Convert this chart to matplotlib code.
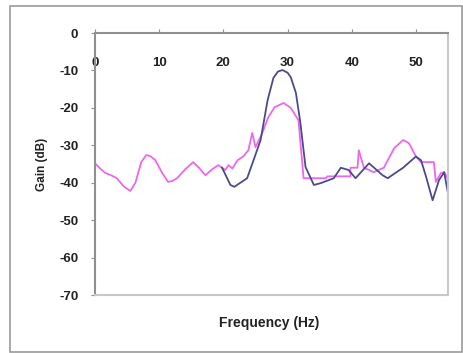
import matplotlib
matplotlib.use("Agg")
import matplotlib.pyplot as plt
from matplotlib.patches import Rectangle

freq_meas = [0, 0.8, 1.6, 2.5, 3.4, 4.5, 5.5, 6.3, 7.2, 8, 8.7, 9.4, 10.5, 11.4, 12.1,
             12.8, 14, 15.3, 16.2, 17.2, 18.2, 19.2, 20.3, 20.8, 21.4, 22.2, 23.1, 23.9,
             24.5, 25, 26, 27, 28, 29.4, 30.5, 31.7, 32.5, 36, 36.2, 39.8, 39.8, 40.9,
             41.1, 41.9, 42.7, 43.4, 45, 46.6, 48, 48.9, 50, 50.8, 52.8, 53.1, 53.9,
             54.4, 55]
gain_meas = [-34.8, -36.2, -37.4, -38, -38.8, -41, -42.2, -40, -34.5, -32.6, -33, -34,
             -37.5, -39.8, -39.5, -38.8, -36.5, -34.5, -36, -38, -36.5, -35.3, -36.6,
             -35.3, -36.2, -34, -33, -31.3, -26.7, -30.5, -27, -22.5, -19.8, -18.7, -20,
             -23.3, -38.8, -38.8, -38.3, -38.3, -36, -36, -31.3, -36, -36.6, -37.2, -36,
             -30.8, -28.6, -29.4, -33, -34.5, -34.5, -39.8, -37.4, -37.2, -39]

# model response (navy)
freq_model = [19.8, 21.1, 21.7, 23.7, 24.7, 25.8, 26.9, 27.8, 28.5, 29.2, 30, 30.5, 31.3,
              32, 32.8, 34.1, 35.2, 37.2, 38.3, 39.5, 40.6, 42.7, 44.8, 45.6, 48, 50,
              50.8, 51.6, 52.6, 53.6, 54.4, 55]
gain_model = [-36, -40.6, -41.1, -38.8, -34, -28.6, -17.9, -12, -10.3, -9.9, -10.6, -11.8,
              -16, -24, -35.8, -40.6, -40.1, -38.8, -36, -36.6, -38.8, -34.8, -38, -38.8,
              -36, -33, -34, -38.5, -44.7, -39.3, -37.2, -42.8]

x_ticks = [0, 10, 20, 30, 40, 50]
y_ticks = [0, -10, -20, -30, -40, -50, -60, -70]

plt.rcParams['font.family'] = ['Liberation Sans', 'DejaVu Sans']
plt.rcParams['axes.unicode_minus'] = False

fig = plt.figure(figsize=(4.63, 3.53), dpi=100)
fig.patches.append(Rectangle((10 / 463, 1 / 353), 452 / 463, 346 / 353,
                             transform=fig.transFigure, fill=False,
                             edgecolor='#9a9a9a', linewidth=1.2))

ax = fig.add_axes([95 / 463, 1 - 295 / 353, 353 / 463, 262 / 353])
ax.plot(freq_meas, gain_meas, color='#ee66ee', linewidth=1.3)
ax.plot(freq_model, gain_model, color='#4b4b8c', linewidth=1.3)

ax.set_xlim(0, 55)
ax.set_ylim(-70, 0)
ax.set_xticks(x_ticks)
ax.set_yticks(y_ticks)

for side in ['right', 'bottom']:
    ax.spines[side].set_color('#c8c8c8')
    ax.spines[side].set_linewidth(1.5)
for side in ['left', 'top']:
    ax.spines[side].set_color('#909090')
    ax.spines[side].set_linewidth(1.5)

ax.tick_params(axis='x', top=True, bottom=False, labeltop=True, labelbottom=False,
               direction='out', length=3, color='#909090', pad=-20,
               labelsize=9.5, labelcolor='#222222')
ax.tick_params(axis='y', direction='out', length=3, color='#909090', pad=9,
               labelsize=9.5, labelcolor='#222222')
for lab in ax.get_xticklabels() + ax.get_yticklabels():
    lab.set_fontweight('bold')
for lab in ax.get_xticklabels():
    lab.set_verticalalignment('top')

ax.set_ylabel('Gain (dB)', fontsize=8.5, fontweight='bold', color='#222222', labelpad=8)
fig.text(269 / 463, 1 - 323 / 353, 'Frequency (Hz)', fontsize=10, fontweight='bold',
         color='#222222', ha='center', va='center')

fig.savefig('out.png', dpi=100)
